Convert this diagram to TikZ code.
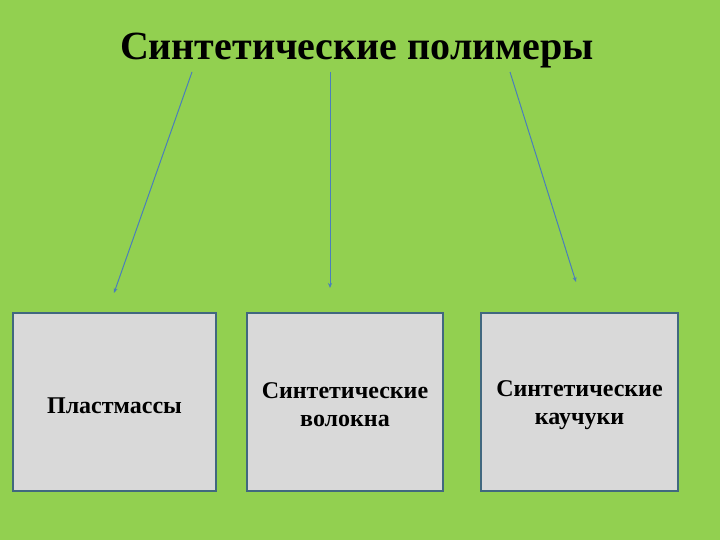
\documentclass[tikz,border=0pt]{standalone}
\usepackage{fontspec}
\setmainfont{Liberation Serif}
\usetikzlibrary{arrows.meta}
\definecolor{bggreen}{HTML}{92D050}
\definecolor{boxfill}{HTML}{D9D9D9}
\definecolor{boxline}{HTML}{41687F}
\definecolor{arrowcol}{HTML}{4A7EBB}
\tikzset{
  box/.style={draw=boxline, line width=2pt, fill=boxfill, minimum height=178pt, inner sep=0pt},
  boxtext/.style={align=center, font=\bfseries\fontsize{24}{28}\selectfont, inner sep=0pt},
  link/.style={draw=arrowcol, line width=1pt, -{Stealth[length=5pt,width=4pt]}}
}
\begin{document}
\begin{tikzpicture}[x=1pt,y=-1pt]
\useasboundingbox (0,0) rectangle (720,540);
\fill[bggreen] (0,0) rectangle (720,540);
\node[font=\bfseries\fontsize{40}{48}\selectfont, anchor=base] (title) at (357,60) {Синтетические полимеры};
\node[box, minimum width=203pt] (b1) at (114.5,402) {};
\node[box, minimum width=196pt] (b2) at (345,402) {};
\node[box, minimum width=197pt] (b3) at (579.5,402) {};
\node[boxtext] (t1) at (114.5,406) {Пластмассы};
\node[boxtext] (t2) at (345,405) {Синтетические\\волокна};
\node[boxtext] (t3) at (579.5,405) {Синтетические\\каучуки};
\coordinate (s1) at (192,72);
\coordinate (s2) at (330,72);
\coordinate (s3) at (510,72);
\coordinate (e1) at (114,293);
\coordinate (e2) at (330,288);
\coordinate (e3) at (576,282);
\draw[link] (s1) -- (e1);
\draw[link] (s2) -- (e2);
\draw[link] (s3) -- (e3);
\end{tikzpicture}
\end{document}
